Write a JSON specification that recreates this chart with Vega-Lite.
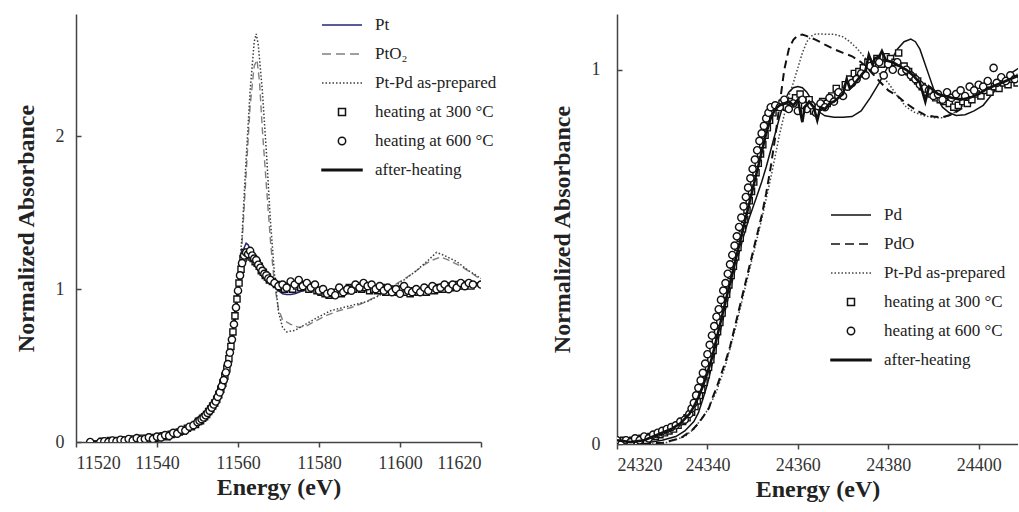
{
"$schema": "https://vega.github.io/schema/vega-lite/v6.json",
"background": "white",
"padding": {"left": 14, "top": 4, "right": 0, "bottom": 5},
"config": {
  "view": {"stroke": null},
  "font": "Liberation Serif",
  "axis": {"labelFont": "Liberation Serif", "labelFontSize": 18, "labelColor": "#333", "titleFont": "Liberation Serif", "titleFontWeight": "bold", "titleFontSize": 24, "titleColor": "#222", "domainColor": "#444", "domainWidth": 1.5, "tickColor": "#444", "tickWidth": 1.5, "grid": false},
  "axisX": {"tickSize": 5, "labelPadding": 7, "titlePadding": 3},
  "axisY": {"tickSize": -5, "labelPadding": 17, "titlePadding": 17},
  "legend": {"padding": 0, "labelFont": "Liberation Serif", "labelFontSize": 17, "labelColor": "#222", "symbolSize": 1600, "labelOffset": 12, "rowPadding": -12.6, "title": null}
},
"bounds": "flush",
"spacing": 136,
"resolve": {"scale": {"color": "independent"}, "legend": {"color": "independent"}},
"datasets": {
  "ptL": [{"e":11524,"a":0.005},{"e":11530,"a":0.01},{"e":11535,"a":0.015},{"e":11540,"a":0.03},{"e":11543,"a":0.045},{"e":11546,"a":0.07},{"e":11548,"a":0.095},{"e":11550,"a":0.125},{"e":11552,"a":0.17},{"e":11553,"a":0.2},{"e":11554,"a":0.24},{"e":11555,"a":0.29},{"e":11556,"a":0.36},{"e":11557,"a":0.45},{"e":11558,"a":0.58},{"e":11558.5,"a":0.67},{"e":11559,"a":0.77},{"e":11559.5,"a":0.88},{"e":11560,"a":0.99},{"e":11560.5,"a":1.1},{"e":11561,"a":1.2},{"e":11561.5,"a":1.27},{"e":11562,"a":1.3},{"e":11562.5,"a":1.29},{"e":11563,"a":1.26},{"e":11564,"a":1.22},{"e":11565,"a":1.19},{"e":11566,"a":1.15},{"e":11567,"a":1.11},{"e":11568,"a":1.07},{"e":11569,"a":1.03},{"e":11570,"a":0.99},{"e":11571,"a":0.97},{"e":11572,"a":0.965},{"e":11573,"a":0.965},{"e":11574,"a":0.97},{"e":11575,"a":0.98},{"e":11577,"a":1.0},{"e":11579,"a":1.0},{"e":11581,"a":0.985},{"e":11583,"a":0.97},{"e":11585,"a":0.97},{"e":11587,"a":0.98},{"e":11589,"a":1.0},{"e":11591,"a":1.01},{"e":11594,"a":1.01},{"e":11597,"a":1.0},{"e":11600,"a":0.99},{"e":11603,"a":0.99},{"e":11606,"a":0.995},{"e":11609,"a":1.0},{"e":11612,"a":1.01},{"e":11615,"a":1.02},{"e":11618,"a":1.03},{"e":11620,"a":1.035}],
  "pto2L": [{"e":11524,"a":0.005},{"e":11530,"a":0.01},{"e":11535,"a":0.015},{"e":11540,"a":0.03},{"e":11543,"a":0.045},{"e":11546,"a":0.07},{"e":11548,"a":0.095},{"e":11550,"a":0.125},{"e":11552,"a":0.17},{"e":11554,"a":0.24},{"e":11555,"a":0.29},{"e":11556,"a":0.36},{"e":11557,"a":0.45},{"e":11558,"a":0.58},{"e":11559,"a":0.77},{"e":11560,"a":1.0},{"e":11561,"a":1.3},{"e":11562,"a":1.75},{"e":11563,"a":2.2},{"e":11564,"a":2.46},{"e":11564.7,"a":2.5},{"e":11565.3,"a":2.36},{"e":11566,"a":2.05},{"e":11567,"a":1.68},{"e":11568,"a":1.32},{"e":11569,"a":1.03},{"e":11570,"a":0.87},{"e":11571,"a":0.8},{"e":11573,"a":0.77},{"e":11575,"a":0.75},{"e":11577,"a":0.76},{"e":11579,"a":0.79},{"e":11582,"a":0.83},{"e":11585,"a":0.86},{"e":11588,"a":0.88},{"e":11591,"a":0.91},{"e":11594,"a":0.95},{"e":11597,"a":1.0},{"e":11600,"a":1.05},{"e":11603,"a":1.1},{"e":11606,"a":1.16},{"e":11608,"a":1.19},{"e":11610,"a":1.21},{"e":11612,"a":1.19},{"e":11615,"a":1.15},{"e":11618,"a":1.1},{"e":11620,"a":1.06}],
  "ptpdL": [{"e":11524,"a":0.005},{"e":11530,"a":0.01},{"e":11535,"a":0.015},{"e":11540,"a":0.03},{"e":11543,"a":0.045},{"e":11546,"a":0.07},{"e":11548,"a":0.095},{"e":11550,"a":0.125},{"e":11552,"a":0.17},{"e":11554,"a":0.24},{"e":11555,"a":0.29},{"e":11556,"a":0.36},{"e":11557,"a":0.45},{"e":11558,"a":0.58},{"e":11559,"a":0.78},{"e":11560,"a":1.02},{"e":11561,"a":1.35},{"e":11562,"a":1.85},{"e":11563,"a":2.3},{"e":11564,"a":2.62},{"e":11564.5,"a":2.67},{"e":11565,"a":2.6},{"e":11566,"a":2.3},{"e":11567,"a":1.9},{"e":11568,"a":1.45},{"e":11569,"a":1.1},{"e":11570,"a":0.85},{"e":11571,"a":0.75},{"e":11572,"a":0.72},{"e":11574,"a":0.73},{"e":11576,"a":0.76},{"e":11578,"a":0.79},{"e":11580,"a":0.82},{"e":11583,"a":0.86},{"e":11586,"a":0.88},{"e":11589,"a":0.9},{"e":11592,"a":0.92},{"e":11595,"a":0.96},{"e":11598,"a":1.01},{"e":11601,"a":1.06},{"e":11604,"a":1.12},{"e":11607,"a":1.19},{"e":11609,"a":1.24},{"e":11611,"a":1.22},{"e":11614,"a":1.18},{"e":11617,"a":1.12},{"e":11620,"a":1.07}],
  "afterL": [{"e":11524,"a":0.0},{"e":11530,"a":0.008},{"e":11535,"a":0.015},{"e":11540,"a":0.03},{"e":11543,"a":0.045},{"e":11546,"a":0.07},{"e":11548,"a":0.095},{"e":11550,"a":0.125},{"e":11552,"a":0.17},{"e":11553,"a":0.2},{"e":11554,"a":0.24},{"e":11555,"a":0.29},{"e":11556,"a":0.36},{"e":11557,"a":0.45},{"e":11558,"a":0.58},{"e":11558.5,"a":0.67},{"e":11559,"a":0.77},{"e":11559.5,"a":0.88},{"e":11560,"a":0.99},{"e":11560.5,"a":1.09},{"e":11561,"a":1.17},{"e":11561.5,"a":1.22},{"e":11562,"a":1.25},{"e":11562.5,"a":1.25},{"e":11563,"a":1.24},{"e":11564,"a":1.21},{"e":11565,"a":1.17},{"e":11566,"a":1.13},{"e":11567,"a":1.1},{"e":11568,"a":1.07},{"e":11569,"a":1.05},{"e":11570,"a":1.03},{"e":11572,"a":1.02},{"e":11574,"a":1.03},{"e":11576,"a":1.03},{"e":11578,"a":1.02},{"e":11580,"a":1.0},{"e":11582,"a":0.98},{"e":11584,"a":0.975},{"e":11586,"a":0.98},{"e":11588,"a":1.0},{"e":11590,"a":1.02},{"e":11592,"a":1.02},{"e":11594,"a":1.01},{"e":11596,"a":1.0},{"e":11598,"a":0.99},{"e":11600,"a":0.99},{"e":11603,"a":0.99},{"e":11606,"a":0.995},{"e":11609,"a":1.0},{"e":11612,"a":1.01},{"e":11615,"a":1.02},{"e":11618,"a":1.03},{"e":11620,"a":1.04}],
  "h300L": [{"e":11526.5,"a":0.005},{"e":11527.5,"a":0.0},{"e":11528.5,"a":0.01},{"e":11529.5,"a":0.005},{"e":11530.5,"a":0.01},{"e":11531.5,"a":0.005},{"e":11532.5,"a":0.015},{"e":11533.5,"a":0.02},{"e":11534.5,"a":0.01},{"e":11535.5,"a":0.02},{"e":11536.5,"a":0.025},{"e":11537.5,"a":0.015},{"e":11538.5,"a":0.03},{"e":11539.5,"a":0.025},{"e":11540.5,"a":0.03},{"e":11541.5,"a":0.04},{"e":11542.5,"a":0.035},{"e":11543.5,"a":0.05},{"e":11544.5,"a":0.055},{"e":11545.5,"a":0.065},{"e":11546.5,"a":0.07},{"e":11547.5,"a":0.09},{"e":11548.5,"a":0.1},{"e":11549.5,"a":0.115},{"e":11550.25,"a":0.135},{"e":11550.75,"a":0.14},{"e":11551.25,"a":0.155},{"e":11551.75,"a":0.165},{"e":11552.25,"a":0.18},{"e":11552.75,"a":0.2},{"e":11553.25,"a":0.215},{"e":11553.75,"a":0.235},{"e":11554.25,"a":0.255},{"e":11554.75,"a":0.28},{"e":11555.25,"a":0.31},{"e":11555.75,"a":0.345},{"e":11556.25,"a":0.385},{"e":11556.75,"a":0.43},{"e":11557.25,"a":0.48},{"e":11557.75,"a":0.545},{"e":11558.25,"a":0.625},{"e":11558.75,"a":0.72},{"e":11559.25,"a":0.825},{"e":11559.75,"a":0.935},{"e":11560.25,"a":1.04},{"e":11560.75,"a":1.13},{"e":11561.25,"a":1.2},{"e":11561.75,"a":1.24},{"e":11562.25,"a":1.24},{"e":11562.75,"a":1.22},{"e":11563.25,"a":1.21},{"e":11563.75,"a":1.2},{"e":11564.25,"a":1.18},{"e":11564.75,"a":1.17},{"e":11565.25,"a":1.15},{"e":11565.75,"a":1.12},{"e":11566.25,"a":1.11},{"e":11566.75,"a":1.09},{"e":11567.25,"a":1.08},{"e":11567.75,"a":1.06},{"e":11568.5,"a":1.05},{"e":11569.5,"a":1.03},{"e":11570.5,"a":1.01},{"e":11571.5,"a":1.0},{"e":11572.5,"a":1.02},{"e":11573.5,"a":1.0},{"e":11574.5,"a":1.02},{"e":11575.5,"a":1.01},{"e":11576.5,"a":1.03},{"e":11577.5,"a":1.0},{"e":11578.5,"a":1.02},{"e":11579.5,"a":0.99},{"e":11580.5,"a":0.98},{"e":11581.5,"a":0.97},{"e":11582.5,"a":0.96},{"e":11583.5,"a":0.97},{"e":11584.5,"a":0.98},{"e":11585.5,"a":0.97},{"e":11586.5,"a":0.99},{"e":11587.5,"a":1.01},{"e":11588.5,"a":1.0},{"e":11589.5,"a":1.02},{"e":11590.5,"a":1.0},{"e":11591.5,"a":1.01},{"e":11592.5,"a":0.99},{"e":11593.5,"a":1.0},{"e":11594.5,"a":0.99},{"e":11595.5,"a":1.01},{"e":11596.5,"a":0.98},{"e":11597.5,"a":1.0},{"e":11598.5,"a":0.99},{"e":11599.5,"a":0.98},{"e":11600.5,"a":1.0},{"e":11601.5,"a":0.98},{"e":11602.5,"a":0.97},{"e":11603.5,"a":0.99},{"e":11604.5,"a":0.98},{"e":11605.5,"a":0.99},{"e":11606.5,"a":0.98},{"e":11607.5,"a":1.0},{"e":11608.5,"a":0.99},{"e":11609.5,"a":1.01},{"e":11610.5,"a":1.0},{"e":11611.5,"a":1.02},{"e":11612.5,"a":1.01},{"e":11613.5,"a":1.02},{"e":11614.5,"a":1.03},{"e":11615.5,"a":1.02},{"e":11616.5,"a":1.03},{"e":11617.5,"a":1.02}],
  "h600L": [{"e":11523.5,"a":0.0},{"e":11526,"a":0.0},{"e":11527,"a":0.005},{"e":11528,"a":0.0},{"e":11529,"a":0.01},{"e":11530,"a":0.005},{"e":11531,"a":0.015},{"e":11532,"a":0.01},{"e":11533,"a":0.02},{"e":11534,"a":0.01},{"e":11535,"a":0.025},{"e":11536,"a":0.015},{"e":11537,"a":0.02},{"e":11538,"a":0.03},{"e":11539,"a":0.02},{"e":11540,"a":0.035},{"e":11541,"a":0.03},{"e":11542,"a":0.045},{"e":11543,"a":0.04},{"e":11544,"a":0.06},{"e":11545,"a":0.055},{"e":11546,"a":0.08},{"e":11547,"a":0.075},{"e":11548,"a":0.1},{"e":11549,"a":0.11},{"e":11550,"a":0.13},{"e":11550.5,"a":0.14},{"e":11551,"a":0.15},{"e":11551.5,"a":0.16},{"e":11552,"a":0.175},{"e":11552.5,"a":0.19},{"e":11553,"a":0.205},{"e":11553.5,"a":0.225},{"e":11554,"a":0.245},{"e":11554.5,"a":0.265},{"e":11555,"a":0.295},{"e":11555.5,"a":0.325},{"e":11556,"a":0.365},{"e":11556.5,"a":0.405},{"e":11557,"a":0.455},{"e":11557.5,"a":0.51},{"e":11558,"a":0.585},{"e":11558.5,"a":0.67},{"e":11559,"a":0.77},{"e":11559.5,"a":0.88},{"e":11560,"a":0.99},{"e":11560.5,"a":1.09},{"e":11561,"a":1.17},{"e":11561.5,"a":1.22},{"e":11562,"a":1.24},{"e":11562.5,"a":1.23},{"e":11563,"a":1.25},{"e":11563.5,"a":1.22},{"e":11564,"a":1.2},{"e":11564.5,"a":1.19},{"e":11565,"a":1.16},{"e":11565.5,"a":1.14},{"e":11566,"a":1.12},{"e":11566.5,"a":1.1},{"e":11567,"a":1.09},{"e":11567.5,"a":1.07},{"e":11568,"a":1.06},{"e":11569,"a":1.04},{"e":11570,"a":1.02},{"e":11571,"a":1.03},{"e":11572,"a":1.01},{"e":11573,"a":1.05},{"e":11574,"a":1.03},{"e":11575,"a":1.06},{"e":11576,"a":1.02},{"e":11577,"a":1.04},{"e":11578,"a":1.01},{"e":11579,"a":1.03},{"e":11580,"a":0.99},{"e":11581,"a":1.0},{"e":11582,"a":0.97},{"e":11583,"a":0.98},{"e":11584,"a":0.96},{"e":11585,"a":1.01},{"e":11586,"a":0.98},{"e":11587,"a":1.0},{"e":11588,"a":0.99},{"e":11589,"a":1.03},{"e":11590,"a":1.01},{"e":11591,"a":1.04},{"e":11592,"a":1.02},{"e":11593,"a":1.03},{"e":11594,"a":1.0},{"e":11595,"a":1.02},{"e":11596,"a":0.99},{"e":11597,"a":1.01},{"e":11598,"a":0.98},{"e":11599,"a":1.0},{"e":11600,"a":0.97},{"e":11601,"a":1.02},{"e":11602,"a":0.99},{"e":11603,"a":0.98},{"e":11604,"a":1.0},{"e":11605,"a":0.98},{"e":11606,"a":1.01},{"e":11607,"a":0.99},{"e":11608,"a":1.02},{"e":11609,"a":1.0},{"e":11610,"a":1.01},{"e":11611,"a":1.03},{"e":11612,"a":1.0},{"e":11613,"a":1.03},{"e":11614,"a":1.01},{"e":11615,"a":1.04},{"e":11616,"a":1.02},{"e":11617,"a":1.04},{"e":11618,"a":1.03},{"e":11620,"a":1.03}],
  "pdR": [{"e":24320,"a":0.0},{"e":24325,"a":0.0},{"e":24330,"a":0.01},{"e":24333,"a":0.02},{"e":24335,"a":0.035},{"e":24337,"a":0.06},{"e":24338,"a":0.083},{"e":24339,"a":0.12},{"e":24340,"a":0.16},{"e":24341,"a":0.21},{"e":24342,"a":0.26},{"e":24343,"a":0.31},{"e":24344,"a":0.36},{"e":24345,"a":0.41},{"e":24346,"a":0.46},{"e":24347,"a":0.51},{"e":24348,"a":0.555},{"e":24349,"a":0.595},{"e":24350,"a":0.63},{"e":24351,"a":0.665},{"e":24352,"a":0.7},{"e":24353,"a":0.74},{"e":24354,"a":0.785},{"e":24355,"a":0.83},{"e":24356,"a":0.875},{"e":24357,"a":0.915},{"e":24358,"a":0.94},{"e":24359,"a":0.952},{"e":24360,"a":0.955},{"e":24361,"a":0.952},{"e":24362,"a":0.94},{"e":24363,"a":0.92},{"e":24364,"a":0.9},{"e":24365,"a":0.885},{"e":24366,"a":0.877},{"e":24368,"a":0.873},{"e":24370,"a":0.873},{"e":24372,"a":0.875},{"e":24374,"a":0.89},{"e":24376,"a":0.925},{"e":24378,"a":0.965},{"e":24380,"a":1.01},{"e":24382,"a":1.055},{"e":24383.5,"a":1.075},{"e":24385,"a":1.082},{"e":24386,"a":1.075},{"e":24387,"a":1.055},{"e":24388,"a":1.02},{"e":24389,"a":0.985},{"e":24390,"a":0.95},{"e":24391,"a":0.92},{"e":24392,"a":0.9},{"e":24393.5,"a":0.885},{"e":24395,"a":0.878},{"e":24397,"a":0.88},{"e":24399,"a":0.89},{"e":24401,"a":0.905},{"e":24403,"a":0.935},{"e":24405,"a":0.965},{"e":24407,"a":0.99},{"e":24409,"a":1.005}],
  "pdoR": [{"e":24320,"a":0.0},{"e":24330,"a":0.003},{"e":24334,"a":0.015},{"e":24336.6,"a":0.037},{"e":24338,"a":0.055},{"e":24339,"a":0.072},{"e":24340.3,"a":0.095},{"e":24341,"a":0.12},{"e":24342,"a":0.15},{"e":24343,"a":0.185},{"e":24344,"a":0.22},{"e":24345,"a":0.26},{"e":24346,"a":0.31},{"e":24347,"a":0.36},{"e":24348,"a":0.41},{"e":24349,"a":0.46},{"e":24350,"a":0.51},{"e":24351,"a":0.56},{"e":24352,"a":0.61},{"e":24353,"a":0.67},{"e":24354,"a":0.74},{"e":24355,"a":0.82},{"e":24356,"a":0.91},{"e":24357,"a":1.0},{"e":24358,"a":1.055},{"e":24359,"a":1.08},{"e":24360,"a":1.092},{"e":24361,"a":1.094},{"e":24362,"a":1.09},{"e":24364,"a":1.08},{"e":24366,"a":1.067},{"e":24368,"a":1.055},{"e":24370,"a":1.045},{"e":24372,"a":1.036},{"e":24374,"a":1.02},{"e":24375,"a":1.009},{"e":24376.5,"a":0.99},{"e":24378,"a":0.97},{"e":24380,"a":0.945},{"e":24382,"a":0.93},{"e":24384,"a":0.91},{"e":24386,"a":0.893},{"e":24388,"a":0.88},{"e":24390,"a":0.875},{"e":24392,"a":0.873},{"e":24394,"a":0.88},{"e":24396,"a":0.895},{"e":24398,"a":0.91},{"e":24400,"a":0.925},{"e":24403,"a":0.95},{"e":24406,"a":0.97},{"e":24409,"a":0.985}],
  "ptpdR": [{"e":24320,"a":0.0},{"e":24330,"a":0.0},{"e":24335,"a":0.02},{"e":24337,"a":0.04},{"e":24340,"a":0.09},{"e":24342,"a":0.14},{"e":24344,"a":0.21},{"e":24346,"a":0.3},{"e":24348,"a":0.4},{"e":24350,"a":0.5},{"e":24352,"a":0.6},{"e":24354,"a":0.71},{"e":24355,"a":0.77},{"e":24356,"a":0.83},{"e":24357,"a":0.88},{"e":24358,"a":0.929},{"e":24359,"a":0.965},{"e":24360,"a":1.005},{"e":24361,"a":1.045},{"e":24362,"a":1.075},{"e":24363,"a":1.09},{"e":24364,"a":1.096},{"e":24366,"a":1.095},{"e":24368,"a":1.095},{"e":24370,"a":1.088},{"e":24371.5,"a":1.075},{"e":24373,"a":1.058},{"e":24375,"a":1.03},{"e":24376.5,"a":1.009},{"e":24378,"a":0.99},{"e":24380,"a":0.965},{"e":24382,"a":0.93},{"e":24384,"a":0.9},{"e":24386,"a":0.885},{"e":24388,"a":0.877},{"e":24390,"a":0.872},{"e":24392,"a":0.872},{"e":24394,"a":0.88},{"e":24396,"a":0.9},{"e":24398,"a":0.915},{"e":24400,"a":0.93},{"e":24403,"a":0.955},{"e":24406,"a":0.975},{"e":24409,"a":0.99}],
  "afterR": [{"e":24320,"a":0.01},{"e":24323,"a":0.005},{"e":24326,"a":0.01},{"e":24328,"a":0.02},{"e":24330,"a":0.03},{"e":24332,"a":0.04},{"e":24334,"a":0.055},{"e":24336,"a":0.08},{"e":24337,"a":0.1},{"e":24338,"a":0.125},{"e":24339,"a":0.155},{"e":24340,"a":0.19},{"e":24341,"a":0.23},{"e":24342,"a":0.28},{"e":24343,"a":0.33},{"e":24344,"a":0.38},{"e":24345,"a":0.43},{"e":24346,"a":0.48},{"e":24347,"a":0.53},{"e":24348,"a":0.58},{"e":24349,"a":0.63},{"e":24350,"a":0.68},{"e":24351,"a":0.73},{"e":24352,"a":0.78},{"e":24353,"a":0.83},{"e":24354,"a":0.87},{"e":24355,"a":0.895},{"e":24356,"a":0.905},{"e":24357,"a":0.91},{"e":24358,"a":0.915},{"e":24359,"a":0.905},{"e":24360,"a":0.92},{"e":24361,"a":0.86},{"e":24361.5,"a":0.9},{"e":24362.5,"a":0.915},{"e":24363.5,"a":0.9},{"e":24364.3,"a":0.865},{"e":24365,"a":0.9},{"e":24366,"a":0.895},{"e":24367,"a":0.91},{"e":24368,"a":0.915},{"e":24369,"a":0.925},{"e":24370,"a":0.935},{"e":24370.8,"a":0.975},{"e":24371.5,"a":0.95},{"e":24372,"a":0.955},{"e":24373,"a":0.97},{"e":24374,"a":0.985},{"e":24375,"a":1.0},{"e":24375.7,"a":1.04},{"e":24376.5,"a":1.015},{"e":24377,"a":1.03},{"e":24378,"a":1.035},{"e":24378.6,"a":1.05},{"e":24379.5,"a":1.025},{"e":24381,"a":1.02},{"e":24382.5,"a":1.01},{"e":24384,"a":1.0},{"e":24385.5,"a":0.985},{"e":24387,"a":0.965},{"e":24388.2,"a":0.915},{"e":24389,"a":0.955},{"e":24390,"a":0.945},{"e":24391,"a":0.935},{"e":24392.5,"a":0.93},{"e":24394,"a":0.925},{"e":24396,"a":0.92},{"e":24398,"a":0.925},{"e":24400,"a":0.935},{"e":24402,"a":0.95},{"e":24404,"a":0.96},{"e":24406,"a":0.97},{"e":24409,"a":0.985}],
  "h300R": [{"e":24320.5,"a":0.005},{"e":24321.5,"a":0.01},{"e":24322.5,"a":0.0},{"e":24323.5,"a":0.01},{"e":24324.5,"a":0.005},{"e":24325.5,"a":0.015},{"e":24326.5,"a":0.01},{"e":24327.5,"a":0.02},{"e":24328.5,"a":0.02},{"e":24329.5,"a":0.025},{"e":24330.5,"a":0.03},{"e":24331.5,"a":0.035},{"e":24332.5,"a":0.04},{"e":24333.5,"a":0.05},{"e":24334.5,"a":0.06},{"e":24335.5,"a":0.07},{"e":24336.5,"a":0.085},{"e":24337.25,"a":0.1},{"e":24337.75,"a":0.115},{"e":24338.25,"a":0.13},{"e":24338.75,"a":0.145},{"e":24339.25,"a":0.165},{"e":24339.75,"a":0.185},{"e":24340.25,"a":0.205},{"e":24340.75,"a":0.225},{"e":24341.25,"a":0.25},{"e":24341.75,"a":0.275},{"e":24342.25,"a":0.3},{"e":24342.75,"a":0.325},{"e":24343.25,"a":0.35},{"e":24343.75,"a":0.375},{"e":24344.25,"a":0.4},{"e":24344.75,"a":0.425},{"e":24345.25,"a":0.45},{"e":24345.75,"a":0.475},{"e":24346.25,"a":0.5},{"e":24346.75,"a":0.525},{"e":24347.25,"a":0.55},{"e":24347.75,"a":0.575},{"e":24348.25,"a":0.6},{"e":24348.75,"a":0.625},{"e":24349.25,"a":0.65},{"e":24349.75,"a":0.675},{"e":24350.25,"a":0.7},{"e":24350.75,"a":0.725},{"e":24351.25,"a":0.75},{"e":24351.75,"a":0.775},{"e":24352.25,"a":0.8},{"e":24352.75,"a":0.825},{"e":24353.25,"a":0.845},{"e":24353.75,"a":0.865},{"e":24354.5,"a":0.885},{"e":24355.5,"a":0.9},{"e":24356.5,"a":0.91},{"e":24357.5,"a":0.9},{"e":24358.5,"a":0.915},{"e":24359.5,"a":0.925},{"e":24360.5,"a":0.935},{"e":24361.5,"a":0.905},{"e":24362.5,"a":0.92},{"e":24363.5,"a":0.89},{"e":24364.5,"a":0.9},{"e":24365.5,"a":0.915},{"e":24366.5,"a":0.91},{"e":24367.5,"a":0.93},{"e":24368.5,"a":0.95},{"e":24369.5,"a":0.94},{"e":24370.5,"a":0.96},{"e":24371.5,"a":0.975},{"e":24372.5,"a":0.99},{"e":24373.5,"a":0.995},{"e":24374.5,"a":1.005},{"e":24375.5,"a":1.02},{"e":24376.5,"a":1.01},{"e":24377.5,"a":1.03},{"e":24378.5,"a":1.015},{"e":24379.5,"a":1.035},{"e":24380.5,"a":1.03},{"e":24381.5,"a":1.02},{"e":24382.3,"a":1.045},{"e":24383.5,"a":1.01},{"e":24384.5,"a":0.995},{"e":24385.5,"a":0.98},{"e":24386.5,"a":0.97},{"e":24387.5,"a":0.955},{"e":24388.5,"a":0.94},{"e":24389.5,"a":0.935},{"e":24390.5,"a":0.925},{"e":24391.5,"a":0.92},{"e":24392.5,"a":0.915},{"e":24393.5,"a":0.91},{"e":24394.5,"a":0.9},{"e":24395.5,"a":0.905},{"e":24396.5,"a":0.915},{"e":24397.5,"a":0.91},{"e":24398.5,"a":0.92},{"e":24399.5,"a":0.935},{"e":24400.5,"a":0.93},{"e":24401.5,"a":0.945},{"e":24402.5,"a":0.94},{"e":24403.5,"a":0.955},{"e":24404.5,"a":0.95},{"e":24405.5,"a":0.965},{"e":24406.5,"a":0.96},{"e":24407.5,"a":0.975},{"e":24408.5,"a":0.965}],
  "h600R": [{"e":24320,"a":0.01},{"e":24321,"a":0.0},{"e":24322,"a":0.01},{"e":24323,"a":0.005},{"e":24324,"a":0.015},{"e":24325,"a":0.01},{"e":24326,"a":0.02},{"e":24327,"a":0.015},{"e":24328,"a":0.025},{"e":24329,"a":0.03},{"e":24330,"a":0.035},{"e":24331,"a":0.04},{"e":24332,"a":0.045},{"e":24333,"a":0.05},{"e":24334,"a":0.06},{"e":24335,"a":0.065},{"e":24336,"a":0.08},{"e":24336.5,"a":0.095},{"e":24337,"a":0.11},{"e":24337.5,"a":0.13},{"e":24338,"a":0.15},{"e":24338.5,"a":0.17},{"e":24339,"a":0.19},{"e":24339.5,"a":0.215},{"e":24340,"a":0.24},{"e":24340.5,"a":0.265},{"e":24341,"a":0.29},{"e":24341.5,"a":0.315},{"e":24342,"a":0.34},{"e":24342.5,"a":0.36},{"e":24343,"a":0.385},{"e":24343.5,"a":0.41},{"e":24344,"a":0.43},{"e":24344.5,"a":0.455},{"e":24345,"a":0.48},{"e":24345.5,"a":0.505},{"e":24346,"a":0.53},{"e":24346.5,"a":0.555},{"e":24347,"a":0.58},{"e":24347.5,"a":0.605},{"e":24348,"a":0.635},{"e":24348.5,"a":0.66},{"e":24349,"a":0.685},{"e":24349.5,"a":0.71},{"e":24350,"a":0.735},{"e":24350.5,"a":0.76},{"e":24351,"a":0.785},{"e":24351.5,"a":0.81},{"e":24352,"a":0.83},{"e":24352.5,"a":0.85},{"e":24353,"a":0.87},{"e":24353.5,"a":0.885},{"e":24354,"a":0.9},{"e":24355,"a":0.905},{"e":24356,"a":0.9},{"e":24357,"a":0.92},{"e":24358,"a":0.895},{"e":24359,"a":0.91},{"e":24360,"a":0.89},{"e":24361,"a":0.92},{"e":24362,"a":0.895},{"e":24363,"a":0.905},{"e":24364,"a":0.885},{"e":24365,"a":0.91},{"e":24366,"a":0.9},{"e":24367,"a":0.925},{"e":24368,"a":0.915},{"e":24369,"a":0.94},{"e":24370,"a":0.93},{"e":24371,"a":0.955},{"e":24372,"a":0.965},{"e":24373,"a":0.975},{"e":24374,"a":0.99},{"e":24375,"a":0.985},{"e":24376,"a":1.01},{"e":24377,"a":1.0},{"e":24378,"a":1.02},{"e":24379,"a":0.985},{"e":24380,"a":1.015},{"e":24381,"a":1.0},{"e":24382,"a":1.02},{"e":24383,"a":0.995},{"e":24384,"a":1.0},{"e":24385,"a":0.985},{"e":24386,"a":0.975},{"e":24387,"a":0.96},{"e":24388,"a":0.95},{"e":24389,"a":0.945},{"e":24390,"a":0.93},{"e":24391,"a":0.935},{"e":24392,"a":0.92},{"e":24393,"a":0.94},{"e":24394,"a":0.925},{"e":24395,"a":0.935},{"e":24396,"a":0.945},{"e":24397,"a":0.93},{"e":24398,"a":0.955},{"e":24399,"a":0.945},{"e":24400,"a":0.96},{"e":24401,"a":0.955},{"e":24402,"a":0.97},{"e":24403.3,"a":1.005},{"e":24404,"a":0.965},{"e":24405,"a":0.98},{"e":24406,"a":0.97},{"e":24407,"a":0.985},{"e":24408,"a":0.975}]
},
"hconcat": [
  {
    "width": 405, "height": 428,
    "encoding": {
      "x": {"field": "e", "type": "quantitative", "scale": {"domain": [11520, 11620], "nice": false, "zero": false}, "axis": {"values": [11520, 11540, 11560, 11580, 11600, 11620], "format": "d", "title": "Energy (eV)"}},
      "y": {"field": "a", "type": "quantitative", "scale": {"domain": [0, 2.8], "nice": false}, "axis": {"values": [0, 1, 2], "format": "d", "title": "Normalized Absorbance"}}
    },
    "layer": [
      {"data": {"name": "pto2L"}, "mark": {"type": "line", "strokeDash": [7, 4], "strokeWidth": 1.4, "clip": true},
       "encoding": {"color": {"datum": "PtO₂", "type": "nominal",
         "scale": {"domain": ["Pt", "PtO₂", "Pt-Pd as-prepared", "heating at 300 °C", "heating at 600 °C", "after-heating"], "range": ["#24247a", "#808080", "#3c3c3c", "#111111", "#111111", "#111111"]},
         "legend": {"orient": "none", "legendX": 245, "legendY": -10,
           "encode": {"symbols": {"update": {
             "shape": {"signal": "datum.value == 'heating at 300 °C' ? 'M-0.175,-0.175L0.175,-0.175L0.175,0.175L-0.175,0.175Z' : datum.value == 'heating at 600 °C' ? 'M0.185,0A0.185,0.185,0,1,1,-0.185,0A0.185,0.185,0,1,1,0.185,0Z' : datum.value == 'after-heating' ? 'M-1,-0.035L1,-0.035L1,0.035L-1,0.035Z' : 'stroke'"},
             "fill": {"signal": "datum.value == 'heating at 300 °C' || datum.value == 'heating at 600 °C' ? 'white' : datum.value == 'after-heating' ? '#111111' : 'transparent'"},
             "stroke": {"signal": "datum.value == 'Pt' ? '#24247a' : datum.value == 'PtO₂' ? '#808080' : datum.value == 'Pt-Pd as-prepared' ? '#3c3c3c' : '#111111'"},
             "strokeDash": {"signal": "datum.value == 'PtO₂' ? [9, 5] : datum.value == 'Pt-Pd as-prepared' ? [1.5, 2] : []"},
             "strokeWidth": {"value": 1.5},
             "opacity": {"value": 1}
           }}}}}}},
      {"data": {"name": "ptpdL"}, "mark": {"type": "line", "strokeDash": [1.5, 2], "strokeWidth": 1.5, "clip": true},
       "encoding": {"color": {"datum": "Pt-Pd as-prepared", "type": "nominal"}}},
      {"data": {"name": "ptL"}, "mark": {"type": "line", "strokeWidth": 1.5, "clip": true},
       "encoding": {"color": {"datum": "Pt", "type": "nominal"}}},
      {"data": {"name": "afterL"}, "mark": {"type": "line", "strokeWidth": 3, "clip": true},
       "encoding": {"color": {"datum": "after-heating", "type": "nominal"}}},
      {"data": {"name": "h300L"}, "mark": {"type": "point", "shape": "square", "size": 38, "filled": false, "fill": "white", "strokeWidth": 1.4, "opacity": 1, "clip": true},
       "encoding": {"color": {"datum": "heating at 300 °C", "type": "nominal"}}},
      {"data": {"name": "h600L"}, "mark": {"type": "point", "shape": "circle", "size": 52, "filled": false, "fill": "white", "strokeWidth": 1.4, "opacity": 1, "clip": true},
       "encoding": {"color": {"datum": "heating at 600 °C", "type": "nominal"}}}
    ]
  },
  {
    "width": 401, "height": 430,
    "encoding": {
      "x": {"field": "e", "type": "quantitative", "scale": {"domain": [24320, 24408.7], "nice": false, "zero": false}, "axis": {"values": [24320, 24340, 24360, 24380, 24400], "format": "d", "title": "Energy (eV)"}},
      "y": {"field": "a", "type": "quantitative", "scale": {"domain": [0, 1.149], "nice": false}, "axis": {"values": [0, 1], "format": "d", "title": "Normalized Absorbance", "labelPadding": 22}}
    },
    "layer": [
      {"data": {"name": "ptpdR"}, "mark": {"type": "line", "strokeDash": [1.5, 2], "strokeWidth": 1.5, "clip": true},
       "encoding": {"color": {"datum": "Pt-Pd as-prepared", "type": "nominal",
         "scale": {"domain": ["Pd", "PdO", "Pt-Pd as-prepared", "heating at 300 °C", "heating at 600 °C", "after-heating"], "range": ["#111111", "#111111", "#444444", "#111111", "#111111", "#111111"]},
         "legend": {"orient": "none", "legendX": 213, "legendY": 180,
           "encode": {"symbols": {"update": {
             "shape": {"signal": "datum.value == 'heating at 300 °C' ? 'M-0.175,-0.175L0.175,-0.175L0.175,0.175L-0.175,0.175Z' : datum.value == 'heating at 600 °C' ? 'M0.185,0A0.185,0.185,0,1,1,-0.185,0A0.185,0.185,0,1,1,0.185,0Z' : datum.value == 'after-heating' ? 'M-1,-0.035L1,-0.035L1,0.035L-1,0.035Z' : 'stroke'"},
             "fill": {"signal": "datum.value == 'heating at 300 °C' || datum.value == 'heating at 600 °C' ? 'white' : datum.value == 'after-heating' ? '#111111' : 'transparent'"},
             "stroke": {"signal": "datum.value == 'Pt-Pd as-prepared' ? '#444444' : '#111111'"},
             "strokeDash": {"signal": "datum.value == 'PdO' ? [9, 5] : datum.value == 'Pt-Pd as-prepared' ? [1.5, 2] : []"},
             "strokeWidth": {"value": 1.5},
             "opacity": {"value": 1}
           }}}}}}},
      {"data": {"name": "pdoR"}, "mark": {"type": "line", "strokeDash": [8, 5], "strokeWidth": 2, "clip": true},
       "encoding": {"color": {"datum": "PdO", "type": "nominal"}}},
      {"data": {"name": "pdR"}, "mark": {"type": "line", "strokeWidth": 1.5, "clip": true},
       "encoding": {"color": {"datum": "Pd", "type": "nominal"}}},
      {"data": {"name": "h300R"}, "mark": {"type": "point", "shape": "square", "size": 38, "filled": false, "fill": "white", "strokeWidth": 1.4, "opacity": 1, "clip": true},
       "encoding": {"color": {"datum": "heating at 300 °C", "type": "nominal"}}},
      {"data": {"name": "h600R"}, "mark": {"type": "point", "shape": "circle", "size": 52, "filled": false, "fill": "white", "strokeWidth": 1.4, "opacity": 1, "clip": true},
       "encoding": {"color": {"datum": "heating at 600 °C", "type": "nominal"}}},
      {"data": {"name": "afterR"}, "mark": {"type": "line", "strokeWidth": 2.6, "clip": true},
       "encoding": {"color": {"datum": "after-heating", "type": "nominal"}}}
    ]
  }
]
}
